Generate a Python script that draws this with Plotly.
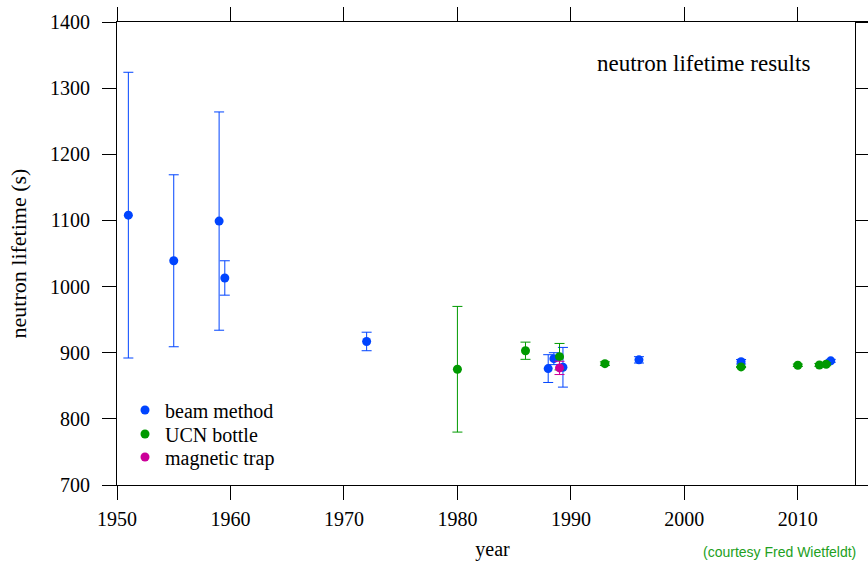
import plotly.graph_objects as go

# ---- data ----
beam_year = [1951.0, 1955.0, 1959.0, 1959.5, 1972.0, 1988.0, 1988.5, 1989.3, 1996.0, 2005.0, 2012.9]
beam_tau = [1108, 1039, 1099, 1013, 917, 876, 891, 878, 889.2, 886.3, 887.7]
beam_err = [216, 130, 165, 26, 14, 21, 9, 30, 4.8, 3.4, 2.2]

ucn_year = [1980.0, 1986.0, 1989.0, 1993.0, 2005.0, 2010.0, 2011.9, 2012.5]
ucn_tau = [875, 903, 894, 883.5, 878.5, 881.0, 881.5, 882.5]
ucn_err = [95, 13, 20, 2.7, 0.8, 1.8, 2.1, 2.1]

mag_year = [1989.0]
mag_tau = [877]
mag_err = [10]

x_ticks = [1950, 1960, 1970, 1980, 1990, 2000, 2010]
y_ticks = [700, 800, 900, 1000, 1100, 1200, 1300, 1400]

BLUE = "#0044ff"
GREEN = "#009900"
MAGENTA = "#cc0099"
SERIF = "Liberation Serif, Times New Roman, serif"

W, H = 868, 561
ML, MR, MT, MB = 117, 0, 22, 76
PW = W - ML - MR
PH = H - MT - MB

fig = go.Figure()


def add_series(x, y, e, color, name, legend):
    fig.add_trace(go.Scatter(
        x=x, y=y, mode="markers", name=name, legend=legend,
        marker=dict(color=color, size=9, line=dict(width=0)),
        error_y=dict(type="data", array=e, visible=True, color=color,
                     thickness=1, width=5),
        showlegend=True,
    ))


add_series(beam_year, beam_tau, beam_err, BLUE, "beam method", "legend")
add_series(ucn_year, ucn_tau, ucn_err, GREEN, "UCN bottle", "legend2")
add_series(mag_year, mag_tau, mag_err, MAGENTA, "magnetic trap", "legend3")

# invisible trace to anchor the right-hand axis
fig.add_trace(go.Scatter(x=[1990], y=[900], yaxis="y2", mode="markers",
                         marker=dict(opacity=0), showlegend=False,
                         hoverinfo="skip"))

x_right_axis = 2015.0
x_max = 1950 + PW / 11.347

fig.update_layout(
    width=W, height=H,
    margin=dict(l=ML, r=MR, t=MT, b=MB, autoexpand=False),
    paper_bgcolor="white", plot_bgcolor="white",
    font=dict(family=SERIF, size=20, color="black"),
    xaxis=dict(
        range=[1950, x_max], tickvals=x_ticks, ticktext=[str(v) for v in x_ticks],
        ticks="outside", ticklen=14, tickwidth=1, tickcolor="black",
        showline=True, linecolor="black", linewidth=1, mirror="allticks",
        showgrid=False, zeroline=False, ticklabelstandoff=2, automargin=False,
        title=dict(text="year", standoff=22, font=dict(size=20)),
        tickfont=dict(size=20),
    ),
    yaxis=dict(
        range=[700, 1400], tickvals=y_ticks,
        ticks="outside", ticklen=14, tickwidth=1, tickcolor="black",
        showline=True, linecolor="black", linewidth=1, mirror=False,
        showgrid=False, zeroline=False, ticklabelstandoff=8, automargin=False,
        title=dict(text="neutron lifetime (s)", standoff=17, font=dict(size=22)),
        tickfont=dict(size=20),
    ),
    yaxis2=dict(
        range=[700, 1400], tickvals=y_ticks, overlaying="y", anchor="free",
        position=(x_right_axis - 1950) / (x_max - 1950), side="right",
        ticks="outside", ticklen=13, tickwidth=1, tickcolor="black",
        showline=True, linecolor="black", linewidth=1, automargin=False,
        showticklabels=False, showgrid=False, zeroline=False,
    ),
    legend=dict(x=(125 - ML) / PW, y=(MT + PH - 410) / PH, yanchor="middle",
                xanchor="left", bgcolor="rgba(0,0,0,0)",
                font=dict(family=SERIF, size=20)),
    legend2=dict(x=(125 - ML) / PW, y=(MT + PH - 434) / PH, yanchor="middle",
                 xanchor="left", bgcolor="rgba(0,0,0,0)",
                 font=dict(family=SERIF, size=20)),
    legend3=dict(x=(125 - ML) / PW, y=(MT + PH - 457) / PH, yanchor="middle",
                 xanchor="left", bgcolor="rgba(0,0,0,0)",
                 font=dict(family=SERIF, size=20)),
    showlegend=True,
)

fig.add_annotation(
    text="neutron lifetime results", xref="paper", yref="paper",
    x=(703 - ML) / PW, y=(MT + PH - 64) / PH, xanchor="center", yanchor="middle",
    showarrow=False, font=dict(family=SERIF, size=23, color="black"),
)
fig.add_annotation(
    text="(courtesy Fred Wietfeldt)", xref="paper", yref="paper",
    x=(858 - ML) / PW, y=(MT + PH - 552) / PH, xanchor="right", yanchor="middle",
    showarrow=False,
    font=dict(family="Liberation Sans, Arial, sans-serif", size=14, color="#22a022"),
)

fig.write_html("out.html")
